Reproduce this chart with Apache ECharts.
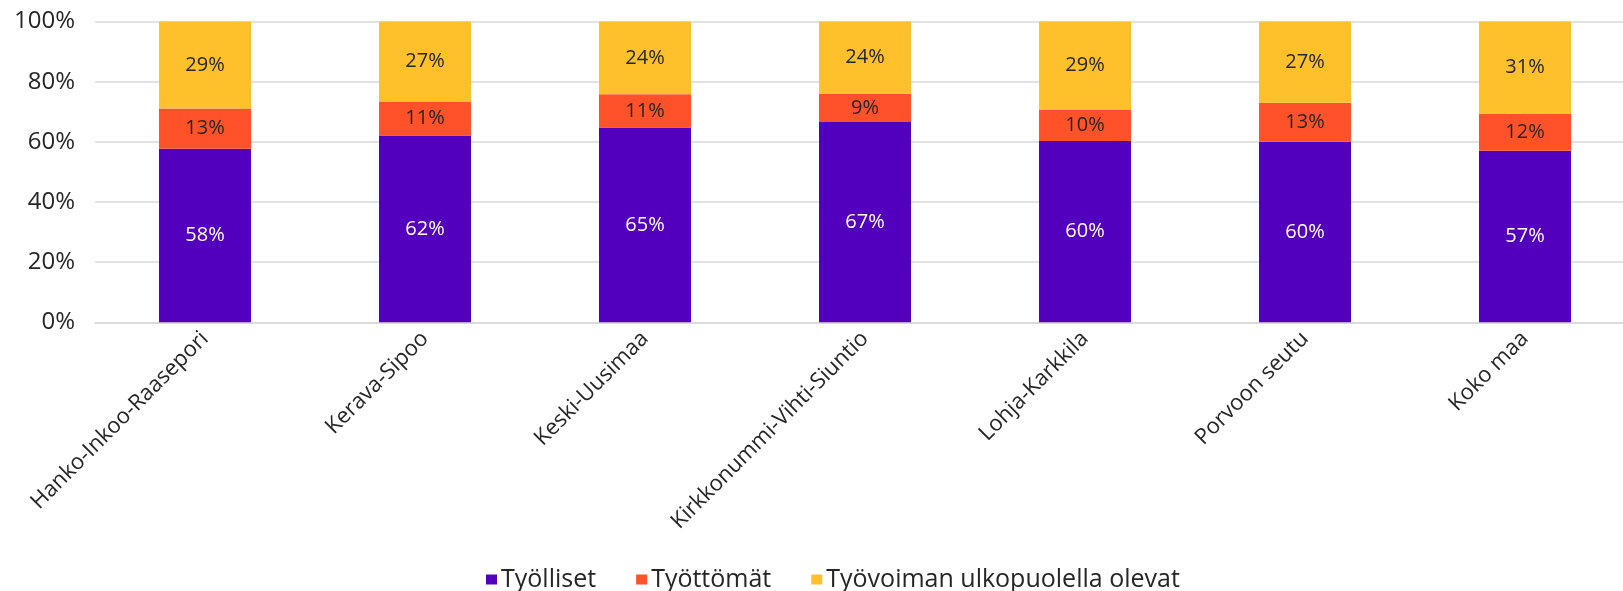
<!DOCTYPE html>
<html>
<head>
<meta charset="utf-8">
<script src="https://cdn.jsdelivr.net/npm/echarts@6/dist/echarts.min.js"></script>
<style>
  html, body { margin: 0; padding: 0; background: #ffffff; }
  #chart { width: 1623px; height: 591px; }
</style>
</head>
<body>
<div id="chart"></div>
<script>
// Regions (seutukunnat) and the whole country
const categories = [
  'Hanko-Inkoo-Raasepori',
  'Kerava-Sipoo',
  'Keski-Uusimaa',
  'Kirkkonummi-Vihti-Siuntio',
  'Lohja-Karkkila',
  'Porvoon seutu',
  'Koko maa'
];

// Share of population (%) by labour market status
const tyolliset   = [57.7, 62.1, 64.8, 66.6, 60.3, 60.0, 57.0];
const tyottomat   = [13.4, 11.3, 11.0,  9.4, 10.3, 13.0, 12.3];
const ulkopuolella = [28.9, 26.6, 24.2, 24.0, 29.4, 27.0, 30.7];

const seriesNames = ['Työlliset', 'Työttömät', 'Työvoiman ulkopuolella olevat'];
const seriesColors = ['#5200BE', '#FF5229', '#FEC02B'];
const yTicks = [0, 20, 40, 60, 80, 100];

const FONT = '"Open Sans", "Noto Sans", sans-serif';
const TEXT = '#262626';

const chart = echarts.init(document.getElementById('chart'), null, { renderer: 'canvas' });

function barSeries(name, data, color, labelColor) {
  return {
    name: name,
    type: 'bar',
    stack: 'total',
    data: data,
    barWidth: 92,
    itemStyle: { color: color },
    label: {
      show: true,
      position: 'inside',
      color: labelColor,
      fontFamily: FONT,
      fontSize: 20,
      formatter: p => Math.round(p.value) + '%'
    },
    emphasis: { disabled: true }
  };
}

chart.setOption({
  animation: false,
  backgroundColor: '#ffffff',
  textStyle: { fontFamily: FONT },
  grid: {
    left: 95,
    top: 21.5,
    width: 1540,
    height: 300.8,
    containLabel: false,
    outerBoundsMode: 'none'
  },
  legend: {
    data: seriesNames,
    left: 486,
    top: 567,
    padding: 0,
    icon: 'rect',
    itemWidth: 11,
    itemHeight: 10,
    itemGap: 40,
    textStyle: {
      color: TEXT,
      fontFamily: FONT,
      fontSize: 25,
      lineHeight: 25,
      padding: [0, 0, 0, -1]
    }
  },
  xAxis: {
    type: 'category',
    data: categories,
    axisLine: { show: true, lineStyle: { color: '#d9d9d9', width: 1.5 } },
    axisTick: { show: false },
    axisLabel: {
      interval: 0,
      rotate: 45,
      margin: 13,
      color: TEXT,
      fontFamily: FONT,
      fontSize: 22
    }
  },
  yAxis: {
    type: 'value',
    min: yTicks[0],
    max: yTicks[yTicks.length - 1],
    interval: yTicks[1] - yTicks[0],
    axisLine: { show: false },
    axisTick: { show: false },
    splitLine: { lineStyle: { color: '#d9d9d9', width: 1.5 } },
    axisLabel: {
      margin: 20,
      color: TEXT,
      fontFamily: FONT,
      fontSize: 24,
      formatter: v => v + '%'
    }
  },
  series: [
    barSeries(seriesNames[0], tyolliset, seriesColors[0], '#ffffff'),
    barSeries(seriesNames[1], tyottomat, seriesColors[1], TEXT),
    barSeries(seriesNames[2], ulkopuolella, seriesColors[2], TEXT)
  ]
});
</script>
</body>
</html>
